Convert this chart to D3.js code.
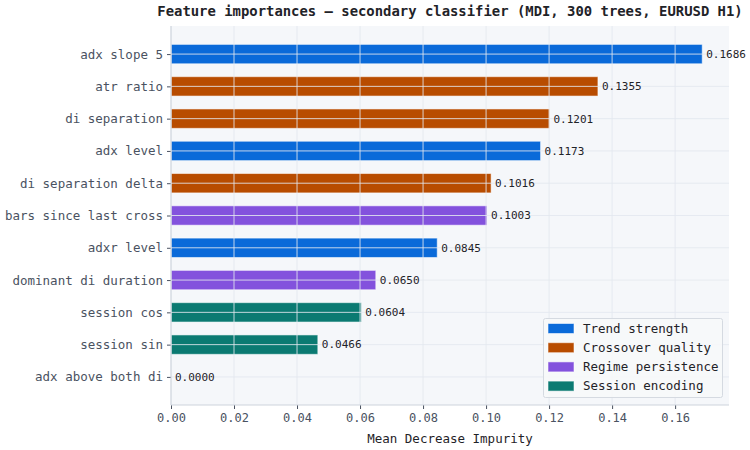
<!DOCTYPE html>
<html><head><meta charset="utf-8">
<script src="https://cdn.jsdelivr.net/npm/d3@7"></script>
<style>body{margin:0;background:#fff}svg{display:block}</style>
</head><body>
<svg id="c" width="750" height="450"></svg>
<script>
const features = ["adx slope 5","atr ratio","di separation","adx level","di separation delta","bars since last cross","adxr level","dominant di duration","session cos","session sin","adx above both di"];
const importances = [0.1686,0.1355,0.1201,0.1173,0.1016,0.1003,0.0845,0.0650,0.0604,0.0466,0.0000];
const groups = ["Trend strength","Crossover quality","Crossover quality","Trend strength","Crossover quality","Regime persistence","Trend strength","Regime persistence","Session encoding","Session encoding","Trend strength"];
const groupNames = ["Trend strength","Crossover quality","Regime persistence","Session encoding"];
const groupColors = ["#0a6ad9","#b84c00","#8352dd","#0b7a72"];
const xTicks = [0,0.02,0.04,0.06,0.08,0.10,0.12,0.14,0.16];

const svg = d3.select("#c");
const L=171,R=729,T=26,B=405;
const mono = "'DejaVu Sans Mono', monospace";
const x = d3.scaleLinear().domain([0,0.1771]).range([L,R]);
const y = d3.scaleLinear().domain([-0.87,10.87]).range([T,B]);
const color = d3.scaleOrdinal().domain(groupNames).range(groupColors);
const unit = y(1)-y(0), bh = unit*0.6;

svg.append("rect").attr("x",L).attr("y",T).attr("width",R-L).attr("height",B-T).attr("fill","#f5f7fa");

// bars
svg.append("g").selectAll("rect").data(features).join("rect")
  .attr("x",x(0)).attr("y",(d,i)=>y(i)-bh/2)
  .attr("width",(d,i)=>x(importances[i])-x(0)).attr("height",bh)
  .attr("fill",(d,i)=>color(groups[i]))
  .attr("stroke","#ffffff").attr("stroke-opacity",0.55).attr("stroke-width",1);

// grid on top
const grid = svg.append("g").attr("stroke","#e3e7ee").attr("stroke-opacity",0.85).attr("stroke-width",1);
grid.selectAll("line.v").data(xTicks).join("line").attr("class","v")
  .attr("x1",d=>x(d)).attr("x2",d=>x(d)).attr("y1",T).attr("y2",B);
grid.selectAll("line.h").data(features).join("line").attr("class","h")
  .attr("x1",L).attr("x2",R).attr("y1",(d,i)=>y(i)).attr("y2",(d,i)=>y(i));

// value labels
svg.append("g").selectAll("text").data(features).join("text")
  .attr("x",(d,i)=>x(importances[i])+4).attr("y",(d,i)=>y(i)).attr("dy","0.35em")
  .attr("font-family",mono).attr("font-size",11).attr("fill","#1f2328")
  .text((d,i)=>importances[i].toFixed(4));

// axes
const xAxis = d3.axisBottom(x).tickValues(xTicks).tickFormat(d3.format(".2f")).tickSize(4).tickPadding(4);
const gx = svg.append("g").attr("transform",`translate(0,${B})`).call(xAxis);
const yAxis = d3.axisLeft(y).tickValues(d3.range(features.length)).tickFormat(i=>features[i]).tickSize(4).tickPadding(4);
const gy = svg.append("g").attr("transform",`translate(${L},0)`).call(yAxis);
[gx,gy].forEach(g=>{
  g.select(".domain").remove();
  g.selectAll("line").attr("stroke","#4a5261");
  g.selectAll("text").attr("font-family",mono).attr("font-size",12.5).attr("fill","#4a5261");
});
gx.selectAll("text").attr("font-size",12);
svg.append("line").attr("x1",L).attr("x2",L).attr("y1",T).attr("y2",B).attr("stroke","#cdd3dc").attr("stroke-width",1);
svg.append("line").attr("x1",L).attr("x2",R).attr("y1",B).attr("y2",B).attr("stroke","#cdd3dc").attr("stroke-width",1);

// labels
svg.append("text").attr("x",(L+R)/2).attr("y",16).attr("text-anchor","middle")
  .attr("font-family",mono).attr("font-weight","bold").attr("font-size",13.9).attr("fill","#1f2328")
  .text("Feature importances — secondary classifier (MDI, 300 trees, EURUSD H1)");
svg.append("text").attr("x",(L+R)/2).attr("y",443).attr("text-anchor","middle")
  .attr("font-family",mono).attr("font-size",12.5).attr("fill","#1f2328")
  .text("Mean Decrease Impurity");

// legend
const lg = svg.append("g");
lg.append("rect").attr("x",543.5).attr("y",318.5).attr("width",179).attr("height",79).attr("rx",2)
  .attr("fill","#f7f8fa").attr("fill-opacity",0.9).attr("stroke","#d5dae1");
groupNames.forEach((g,i)=>{
  const cy = 328.5 + i*19.2;
  lg.append("rect").attr("x",548).attr("y",cy-5).attr("width",26).attr("height",10)
    .attr("fill",color(g)).attr("stroke","#ffffff").attr("stroke-opacity",0.55);
  lg.append("text").attr("x",583).attr("y",cy).attr("dy","0.35em")
    .attr("font-family",mono).attr("font-size",12.5).attr("fill","#1f2328").text(g);
});
</script>
</body></html>
